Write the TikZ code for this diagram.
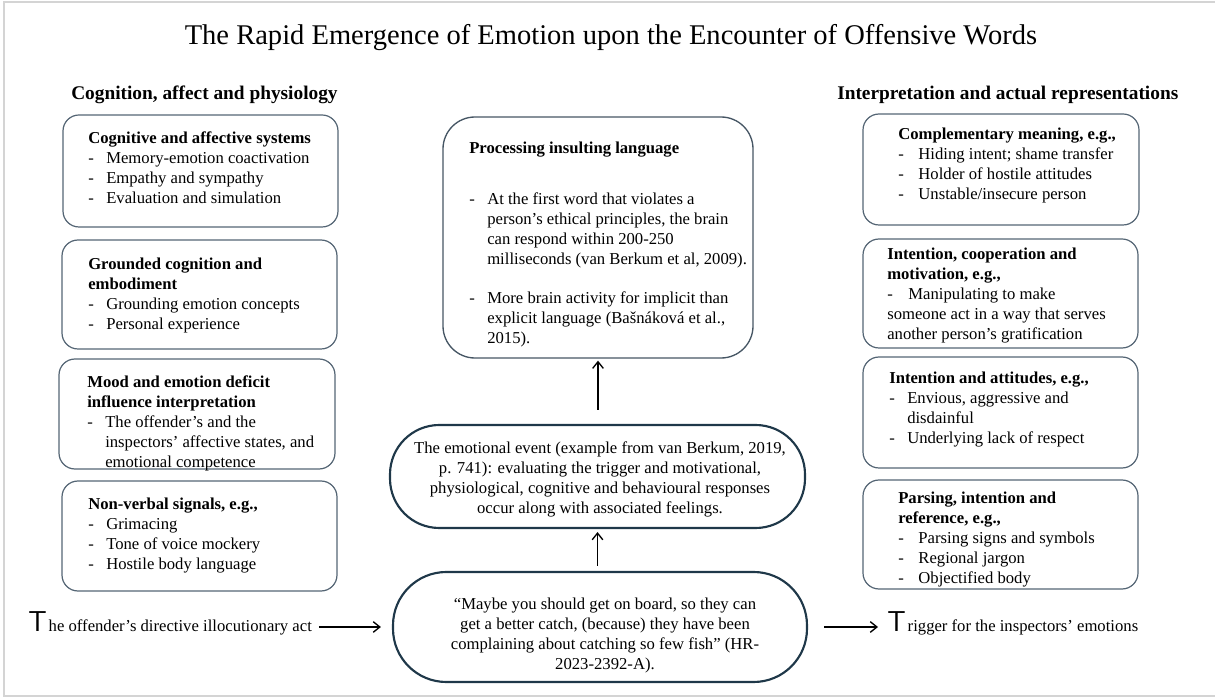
\documentclass[tikz,border=0pt]{standalone}
\usepackage{fontspec}
\setmainfont{Liberation Serif}
\usetikzlibrary{arrows.meta,fit}
\definecolor{sideblue}{RGB}{84,101,116}
\definecolor{procblue}{RGB}{70,86,100}
\definecolor{navy}{RGB}{31,56,73}
\definecolor{framegray}{RGB}{212,212,212}
\newcommand\bul[1][13.5pt]{\makebox[#1][l]{-}}
\newcommand\ind[1][13.5pt]{\hspace*{#1}}
\newcommand\fs{\rule{0pt}{12pt}}
\newcommand\bigT{{\sffamily\fontsize{21.6}{22}\selectfont T}}
\begin{document}
\begin{tikzpicture}[x=0.75pt,y=-0.75pt,
  sidebox/.style={draw=sideblue,line width=0.9pt,rounded corners=12pt,inner sep=0pt},
  procbox/.style={draw=procblue,line width=1pt,rounded corners=24pt,inner sep=0pt},
  pill/.style={draw=navy,line width=1.6pt,inner sep=0pt},
  body/.style={inner sep=0pt,align=left,font=\fontsize{12.5}{15}\selectfont},
  cbody/.style={inner sep=0pt,align=center,font=\fontsize{12.5}{15}\selectfont},
  heading/.style={inner sep=0pt,font=\bfseries\fontsize{14.5}{17}\selectfont},
  arr/.style={line width=1pt,-{Straight Barb[length=5pt,width=8pt]}}
]
\useasboundingbox (0,0) rectangle (1215,698);
\draw[framegray,line width=1.5pt] (1215,2) -- (4,2) -- (4,696) -- (1215,696);

\node[inner sep=0pt,anchor=base,font=\fontsize{21.4}{25}\selectfont] (title) at (611,45) {The Rapid Emergence of Emotion upon the Encounter of Offensive Words};
\node[heading,anchor=base west] (hl) at (71,100) {Cognition, affect and physiology};
\node[heading,anchor=base west] (hr) at (837,100) {Interpretation and actual representations};

% left column
\node[sidebox,fit={(63,115)(338,227)}] (l1) {};
\node[body,anchor=north west] (l1t) at (88,127) {\fs\textbf{Cognitive and affective systems}\\ \bul Memory-emotion coactivation\\ \bul Empathy and sympathy\\ \bul Evaluation and simulation};
\node[sidebox,fit={(62,240)(337,349)}] (l2) {};
\node[body,anchor=north west] (l2t) at (88,253) {\fs\textbf{Grounded cognition and}\\ \textbf{embodiment}\\ \bul Grounding emotion concepts\\ \bul Personal experience};
\node[sidebox,fit={(59,359)(335,469)}] (l3) {};
\node[body,anchor=north west] (l3t) at (87,371) {\fs\textbf{Mood and emotion deficit}\\ \textbf{influence interpretation}\\ \bul The offender’s and the\\ \ind inspectors’ affective states, and\\ \ind emotional competence};
\node[sidebox,fit={(62,481)(337,591)}] (l4) {};
\node[body,anchor=north west] (l4t) at (88,493) {\fs\textbf{Non-verbal signals, e.g.,}\\ \bul Grimacing\\ \bul Tone of voice mockery\\ \bul Hostile body language};

% centre column
\node[procbox,fit={(443,117)(753,358)}] (C1) {};
\node[body,anchor=north west] (C1t) at (469,137) {\fs\textbf{Processing insulting language}\\[23.25pt] \bul At the first word that violates a\\ \ind person’s ethical principles, the brain\\ \ind can respond within 200-250\\ \ind milliseconds (van Berkum et al, 2009).\\[14.25pt] \bul More brain activity for implicit than\\ \ind explicit language (Bašnáková et al.,\\ \ind 2015).};
\node[pill,rounded corners=37pt,fit={(390,425)(805,528)}] (M) {};
\node[cbody,anchor=north] (Mt) at (600,437) {\fs The emotional event (example from van Berkum, 2019,\\ p. 741): evaluating the trigger and motivational,\\ physiological, cognitive and behavioural responses\\ occur along with associated feelings.};
\node[pill,rounded corners=40pt,fit={(393,572)(807,682)}] (B) {};
\node[cbody,anchor=north] (Bt) at (605,593) {\fs “Maybe you should get on board, so they can\\ get a better catch, (because) they have been\\ complaining about catching so few fish” (HR-\\ 2023-2392-A).};

% right column
\node[sidebox,fit={(863,114)(1139,225)}] (r1) {};
\node[body,anchor=north west] (r1t) at (898,123) {\fs\textbf{Complementary meaning, e.g.,}\\ \bul[12pt] Hiding intent; shame transfer\\ \bul[12pt] Holder of hostile attitudes\\ \bul[12pt] Unstable/insecure person};
\node[sidebox,fit={(863,239)(1138,348)}] (r2) {};
\node[body,anchor=north west] (r2t) at (887,243) {\fs\textbf{Intention, cooperation and}\\ \textbf{motivation, e.g.,}\\ \bul[12.75pt] Manipulating to make\\ someone act in a way that serves\\ another person’s gratification};
\node[sidebox,fit={(863,357)(1138,468)}] (r3) {};
\node[body,anchor=north west] (r3t) at (889,367) {\fs\textbf{Intention and attitudes, e.g.,}\\ \bul Envious, aggressive and\\ \ind disdainful\\ \bul Underlying lack of respect};
\node[sidebox,fit={(863,480)(1138,589)}] (r4) {};
\node[body,anchor=north west] (r4t) at (898,487) {\fs\textbf{Parsing, intention and}\\ \textbf{reference, e.g.,}\\ \bul[12pt] Parsing signs and symbols\\ \bul[12pt] Regional jargon\\ \bul[12pt] Objectified body};

% bottom line
\node[body,anchor=base west] (offender) at (28,632) {\bigT\hspace{1.5pt}he offender’s directive illocutionary act};
\node[body,anchor=base west] (trigger) at (887,632) {\bigT\hspace{1.5pt}rigger for the inspectors’ emotions};

\draw[arr,shorten <=5pt,shorten >=8.25pt] (offender.east |- B.west) -- (B.west);
\draw[arr,shorten <=12pt,shorten >=6.75pt] (B.east) -- (trigger.west |- B.east);
\draw[arr,shorten <=3.75pt,shorten >=2.25pt] (M.south |- B.north) -- (M.south);
\draw[arr,shorten <=10.5pt,shorten >=1.5pt] (C1.south |- M.north) -- (C1.south);
\end{tikzpicture}
\end{document}
